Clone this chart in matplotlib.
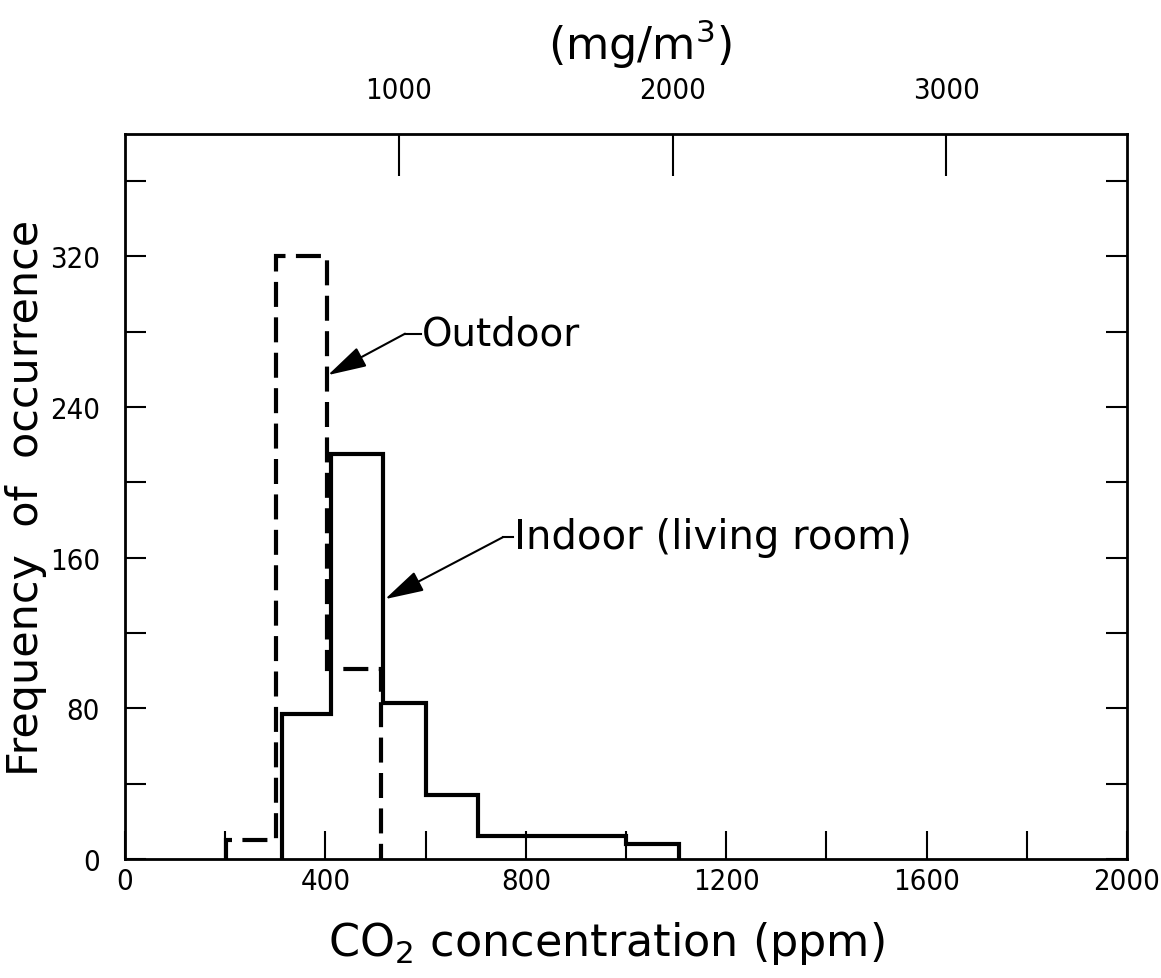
import numpy as np
import matplotlib
matplotlib.use("Agg")
import matplotlib.pyplot as plt
from matplotlib.ticker import MultipleLocator

# histogram data (ppm bin edges, counts)
outdoor_edges = [202, 301, 403, 510]
outdoor_counts = [10, 320, 101]
indoor_edges = [313, 412, 515, 600, 705, 1000, 1105]
indoor_counts = [77, 215, 83, 34, 12, 8]

xticks = [0, 400, 800, 1200, 1600, 2000]
yticks = [0, 80, 160, 240, 320]
mg_ticks = [1000, 2000, 3000]
ppm_to_mg = 1.83

plt.rcParams['font.family'] = ['DejaVu Sans']

fig = plt.figure(figsize=(11.61, 9.79), dpi=100)
ax = fig.add_axes([0.1077, 0.1216, 0.863, 0.7404])

ax.stairs(outdoor_counts, outdoor_edges, baseline=0, color='black', lw=3,
          linestyle=(0, (6, 2.5)))
ax.stairs(indoor_counts, indoor_edges, baseline=0, color='black', lw=3)

ax.set_xlim(0, 2000)
ax.set_ylim(0, 385)
ax.set_xticks(xticks)
ax.xaxis.set_minor_locator(MultipleLocator(200))
ax.set_yticks(yticks)
ax.yaxis.set_minor_locator(MultipleLocator(40))
ax.tick_params(axis='x', which='both', direction='in', length=20, width=1.5,
               top=False, pad=6)
ax.tick_params(axis='y', which='both', direction='in', length=15, width=1.5,
               right=True, pad=18)
for lab in ax.get_xticklabels() + ax.get_yticklabels():
    lab.set_fontstretch('condensed')
    lab.set_fontsize(21)
for s in ax.spines.values():
    s.set_linewidth(2)

ax.set_xlabel('CO$_2$ concentration (ppm)', fontsize=32)
ax.xaxis.set_label_coords(0.48, -0.083)
ax.set_ylabel('Frequency  of  occurrence', fontsize=31)
ax.yaxis.set_label_coords(-0.078, 0.5)

top = ax.secondary_xaxis('top', functions=(lambda p: p * ppm_to_mg,
                                           lambda m: m / ppm_to_mg))
top.set_xticks(mg_ticks)
top.tick_params(direction='in', length=30, width=1.5, pad=22)
for lab in top.get_xticklabels():
    lab.set_fontstretch('condensed')
    lab.set_fontsize(21)
top.set_xlabel('(mg/m$^3$)', fontsize=32, labelpad=12)
top.xaxis.label.set_x(0.514)

# annotations: text, short stub, arrow
arrow = dict(arrowstyle='-|>,head_length=0.8,head_width=0.22', color='black',
             lw=1.5, mutation_scale=30, shrinkA=0, shrinkB=0)
ax.annotate('', xy=(405, 257), xytext=(559, 279), arrowprops=arrow)
ax.plot([559, 590], [279, 279], color='black', lw=1.5)
ax.text(592, 279, 'Outdoor', fontsize=28, va='center', ha='left')

ax.annotate('', xy=(519, 138), xytext=(755, 171), arrowprops=arrow)
ax.plot([755, 775], [171, 171], color='black', lw=1.5)
ax.text(776, 171, 'Indoor (living room)', fontsize=29, va='center', ha='left')

fig.savefig('out.png', dpi=100)
